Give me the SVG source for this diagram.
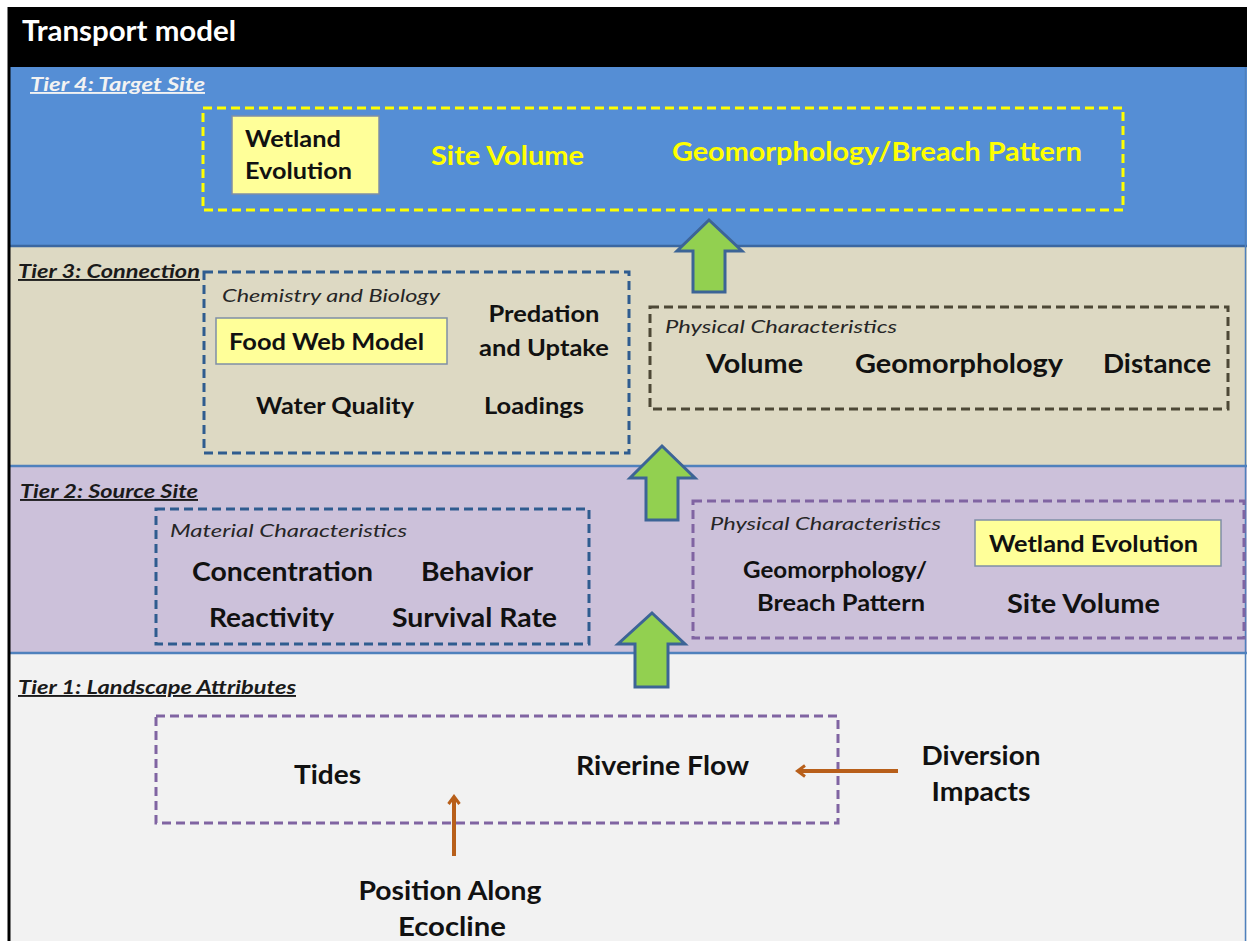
<svg xmlns="http://www.w3.org/2000/svg" width="1247" height="941" viewBox="0 0 1247 941">
<style>
text{font-family:Lato,"Open Sans","Liberation Sans",sans-serif}
.b{font-weight:bold;fill:#111}
.tier{font-weight:bold;font-style:italic;font-size:19px;text-decoration:underline;fill:#1a1a1a}
.it{font-style:italic;font-size:18px;fill:#262626}
.ylw{fill:#FFFF99;stroke:#7F8FA6;stroke-width:1.5}
.dsh{fill:none;stroke-width:3;stroke-dasharray:9 5}
.arrow{fill:#92D050;stroke:#3C6496;stroke-width:3;stroke-linejoin:miter}
.brown{stroke:#B85F1A;stroke-width:4;fill:none}
</style>
<defs>
<marker id="open" markerWidth="12" markerHeight="14" refX="9" refY="7" orient="auto" markerUnits="userSpaceOnUse">
<path d="M2,1.5 L9.5,7 L2,12.5" fill="none" stroke="#B85F1A" stroke-width="3"/>
</marker>
</defs>
<rect width="1247" height="941" fill="#ffffff"/>
<g id="bands">
<rect x="8" y="7" width="1239" height="60" fill="#000"/>
<rect x="8" y="67" width="1239" height="180" fill="#558ED5"/>
<rect x="8" y="246" width="1239" height="220" fill="#DDD9C3"/>
<rect x="8" y="466" width="1239" height="187" fill="#CCC1DA"/>
<rect x="8" y="653" width="1239" height="288" fill="#F2F2F2"/>
<line x1="8" y1="246" x2="1247" y2="246" stroke="#3B67A0" stroke-width="2.5"/>
<line x1="8" y1="466" x2="1247" y2="466" stroke="#4F81BD" stroke-width="2.5"/>
<line x1="8" y1="653" x2="1247" y2="653" stroke="#4F81BD" stroke-width="2.5"/>
<line x1="1245.5" y1="67" x2="1245.5" y2="941" stroke="#4F81BD" stroke-width="1.5"/>
<line x1="9" y1="7" x2="9" y2="941" stroke="#000" stroke-width="3"/>
<text x="22" y="41" font-size="28" font-weight="bold" fill="#fff" textLength="214" lengthAdjust="spacingAndGlyphs">Transport model</text>
</g>
<g id="tier4">
<text class="tier" x="30" y="91" style="fill:#F2F2F2" textLength="175" lengthAdjust="spacingAndGlyphs">Tier 4: Target Site</text>
<rect class="dsh" x="203" y="108" width="920" height="102" stroke="#FFFF00"/>
<g id="t4-wetland">
<rect class="ylw" x="232" y="116" width="147" height="78"/>
<text class="b" x="245" y="147" font-size="22" textLength="96" lengthAdjust="spacingAndGlyphs">Wetland</text>
<text class="b" x="245" y="179" font-size="22" textLength="107" lengthAdjust="spacingAndGlyphs">Evolution</text>
</g>
<text x="431" y="165" font-size="26" font-weight="bold" fill="#FFFF00" textLength="153" lengthAdjust="spacingAndGlyphs">Site Volume</text>
<text x="672" y="161" font-size="26" font-weight="bold" fill="#FFFF00" textLength="410" lengthAdjust="spacingAndGlyphs">Geomorphology/Breach Pattern</text>
</g>
<g id="tier3">
<text class="tier" x="18" y="278" textLength="182" lengthAdjust="spacingAndGlyphs">Tier 3: Connection</text>
<g id="chem">
<rect class="dsh" x="204" y="272" width="425" height="181" stroke="#2F5C8F"/>
<text class="it" x="222" y="302" textLength="218" lengthAdjust="spacingAndGlyphs">Chemistry and Biology</text>
<rect class="ylw" x="216" y="318" width="231" height="46"/>
<text class="b" x="229" y="350" font-size="22" textLength="195" lengthAdjust="spacingAndGlyphs">Food Web Model</text>
<text class="b" x="544" y="322" font-size="22" text-anchor="middle" textLength="111" lengthAdjust="spacingAndGlyphs">Predation</text>
<text class="b" x="544" y="356" font-size="22" text-anchor="middle" textLength="130" lengthAdjust="spacingAndGlyphs">and Uptake</text>
<text class="b" x="256" y="414" font-size="22" textLength="158" lengthAdjust="spacingAndGlyphs">Water Quality</text>
<text class="b" x="484" y="414" font-size="22" textLength="100" lengthAdjust="spacingAndGlyphs">Loadings</text>
</g>
<g id="phys3">
<rect class="dsh" x="650" y="307" width="578" height="102" stroke="#4D4836"/>
<text class="it" x="665" y="333" textLength="232" lengthAdjust="spacingAndGlyphs">Physical  Characteristics</text>
<text class="b" x="706" y="373" font-size="26" textLength="97" lengthAdjust="spacingAndGlyphs">Volume</text>
<text class="b" x="855" y="373" font-size="26" textLength="208" lengthAdjust="spacingAndGlyphs">Geomorphology</text>
<text class="b" x="1103" y="373" font-size="26" textLength="108" lengthAdjust="spacingAndGlyphs">Distance</text>
</g>
</g>
<g id="tier2">
<text class="tier" x="20" y="498" textLength="178" lengthAdjust="spacingAndGlyphs">Tier 2: Source Site</text>
<g id="material">
<rect class="dsh" x="156" y="509" width="433" height="135" stroke="#2F5C8F"/>
<text class="it" x="170" y="537" textLength="237" lengthAdjust="spacingAndGlyphs">Material  Characteristics</text>
<text class="b" x="192" y="581" font-size="26" textLength="181" lengthAdjust="spacingAndGlyphs">Concentration</text>
<text class="b" x="421" y="581" font-size="26" textLength="112" lengthAdjust="spacingAndGlyphs">Behavior</text>
<text class="b" x="209" y="627" font-size="26" textLength="125" lengthAdjust="spacingAndGlyphs">Reactivity</text>
<text class="b" x="392" y="627" font-size="26" textLength="165" lengthAdjust="spacingAndGlyphs">Survival Rate</text>
</g>
<g id="phys2">
<rect class="dsh" x="693" y="501" width="551" height="137" stroke="#8064A2"/>
<text class="it" x="710" y="530" textLength="231" lengthAdjust="spacingAndGlyphs">Physical  Characteristics</text>
<rect class="ylw" x="975" y="520" width="246" height="46"/>
<text class="b" x="989" y="552" font-size="22" textLength="209" lengthAdjust="spacingAndGlyphs">Wetland Evolution</text>
<text class="b" x="835" y="578" font-size="22" text-anchor="middle" textLength="184" lengthAdjust="spacingAndGlyphs">Geomorphology/</text>
<text class="b" x="841" y="611" font-size="22" text-anchor="middle" textLength="168" lengthAdjust="spacingAndGlyphs">Breach Pattern</text>
<text class="b" x="1007" y="613" font-size="26" textLength="153" lengthAdjust="spacingAndGlyphs">Site Volume</text>
</g>
</g>
<g id="tier1">
<text class="tier" x="18" y="694" textLength="278" lengthAdjust="spacingAndGlyphs">Tier 1: Landscape Attributes</text>
<g id="landscape">
<rect class="dsh" x="156" y="716" width="682" height="107" stroke="#8064A2"/>
<text class="b" x="294" y="784" font-size="26" textLength="67" lengthAdjust="spacingAndGlyphs">Tides</text>
<text class="b" x="576" y="775" font-size="26" textLength="173" lengthAdjust="spacingAndGlyphs">Riverine Flow</text>
</g>
<g id="diversion">
<text class="b" x="981" y="765" font-size="26" text-anchor="middle" textLength="119" lengthAdjust="spacingAndGlyphs">Diversion</text>
<text class="b" x="981" y="801" font-size="26" text-anchor="middle" textLength="99" lengthAdjust="spacingAndGlyphs">Impacts</text>
</g>
<g id="position">
<text class="b" x="450" y="900" font-size="26" text-anchor="middle" textLength="183" lengthAdjust="spacingAndGlyphs">Position Along</text>
<text class="b" x="452" y="936" font-size="26" text-anchor="middle" textLength="108" lengthAdjust="spacingAndGlyphs">Ecocline</text>
</g>
</g>
<g id="connectors">
<path class="arrow" d="M709,220 L742,251 L725,251 L725,292 L693,292 L693,251 L677,251 Z"/>
<path class="arrow" d="M662,446 L695,478 L678,478 L678,520 L646,520 L646,478 L630,478 Z"/>
<path class="arrow" d="M652,613 L685,644 L668,644 L668,687 L635,687 L635,644 L618,644 Z"/>
<line class="brown" x1="454" y1="856" x2="454" y2="797" marker-end="url(#open)"/>
<line class="brown" x1="898" y1="771" x2="798" y2="771" marker-end="url(#open)"/>
</g>
</svg>
